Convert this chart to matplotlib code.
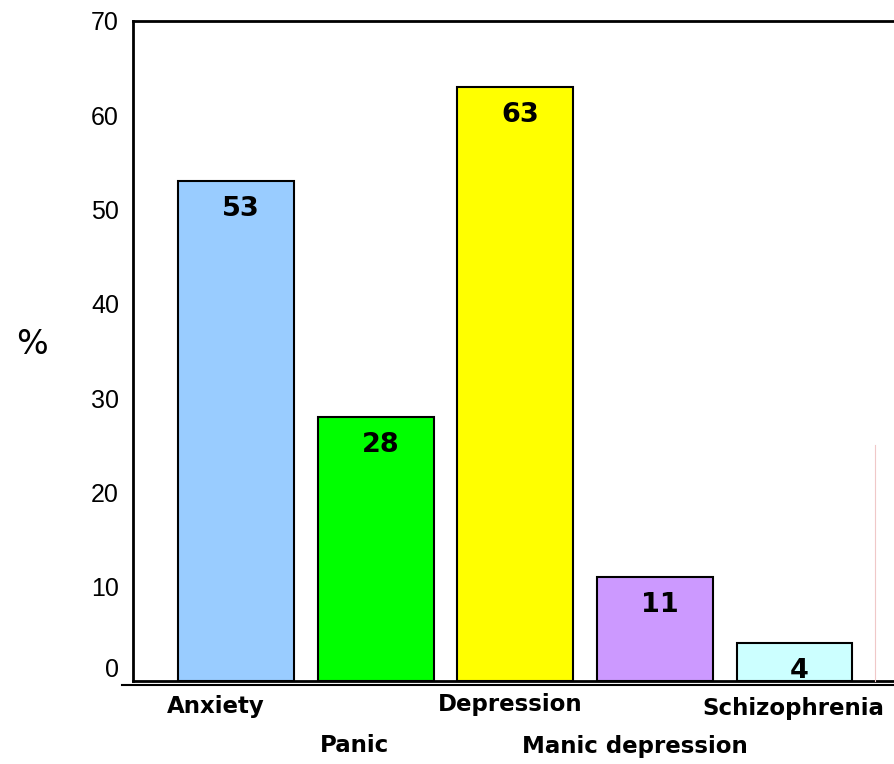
import numpy as np
import matplotlib
matplotlib.use("Agg")
from matplotlib import pyplot as plt
from matplotlib.lines import Line2D

# Prevalence (%) of each disorder
categories = ["Anxiety", "Panic", "Depression", "Manic depression", "Schizophrenia"]
values = [53, 28, 63, 11, 4]
colors = ["#99CCFF", "#00FF00", "#FFFF00", "#CC99FF", "#CCFFFF"]
yticks = [0, 10, 20, 30, 40, 50, 60, 70]

# category labels alternate between two rows under the axis
label_offsets = [(-20, -26), (-21, -64), (-5, -23), (-20, -66), (-1, -27)]

fig = plt.figure(figsize=(8.95, 7.64), dpi=100)
ax = fig.add_axes([133 / 895, 83 / 764, 762 / 895, 660 / 764])

x = np.arange(len(categories))
bars = ax.bar(x, values, width=0.83, color=colors, edgecolor="black", linewidth=1.5)

ax.set_xlim(-0.738, 4.72)
ax.set_ylim(0, 70)
ax.set_yticks(yticks)
# the zero label is drawn separately, a little above the baseline
ax.set_yticklabels([""] + [str(t) for t in yticks[1:]], family="Liberation Sans", fontsize=18)
ax.tick_params(axis="y", length=0, pad=10)
ax.set_xticks([])
ax.annotate(str(yticks[0]), (0, yticks[0]), xycoords=("axes fraction", "data"),
            xytext=(-14, 11), textcoords="offset pixels", ha="right", va="center",
            family="Liberation Sans", fontsize=18, annotation_clip=False)

for side in ["left", "top", "bottom"]:
    ax.spines[side].set_linewidth(2)
ax.spines["right"].set_visible(False)

# value labels just inside the top of each bar
for xi, v in zip(x, values):
    ax.annotate(str(v), (xi, v), xytext=(5, -28), textcoords="offset pixels",
                ha="center", va="center", fontsize=19.5, fontweight="bold")

for xi, name, (dx, dy) in zip(x, categories, label_offsets):
    ax.annotate(name, (xi, 0), xytext=(dx, dy), textcoords="offset pixels",
                ha="center", va="center", fontsize=16.5, fontweight="bold",
                annotation_clip=False)

# separate category axis line below the plot frame
fig.add_artist(Line2D([122 / 895, 1], [1 - 685 / 764] * 2, color="black", linewidth=1.5))
fig.add_artist(Line2D([875 / 895] * 2, [1 - 681 / 764, 1 - 445 / 764],
                      color="#f0c8c8", linewidth=0.8))

fig.text(32 / 895, 1 - 345 / 764, "%", fontsize=24, ha="center", va="center")

fig.savefig("out.png", dpi=100)
